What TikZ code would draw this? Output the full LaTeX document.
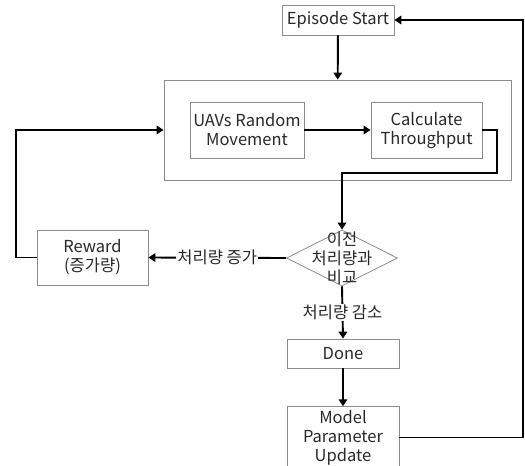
\documentclass[tikz,border=0pt]{standalone}
\usepackage{fontspec}
\usepackage{tikz}
\usetikzlibrary{shapes.geometric,arrows.meta}
\setmainfont{Noto Sans CJK KR}
\definecolor{boxgray}{RGB}{140,140,140}
\definecolor{textgray}{RGB}{40,40,40}

\begin{document}
\begin{tikzpicture}[x=1pt, y=-1pt,
    box/.style={draw=boxgray, line width=0.8pt, rectangle, align=center, text=textgray, font=\fontsize{16.5}{19}\selectfont},
    flow/.style={line width=1.9pt, -{Triangle[length=7pt,width=8.5pt]}},
    plain/.style={line width=1.9pt}]
            \useasboundingbox (0,0) rectangle (525,466);
            % Start
            \node[box, minimum width=112pt, minimum height=30pt] (start) at (338,20) {Episode Start};
            
            % Environment step
            \node[box, minimum width=347pt, minimum height=100pt] (outer) at (337.5,130) {};
            \node[box, minimum width=112pt, minimum height=56pt] (move) at (247,130) {UAVs Random\\Movement};
            \node[box, minimum width=111pt, minimum height=56pt] (calc) at (426.5,130) {Calculate\\Throughput};
            
            % Comparison
            \node[diamond, draw=boxgray, line width=0.8pt, minimum width=111pt, minimum height=56pt, inner sep=0pt] (cmp) at (342,258) {};
            \node[align=center, text=textgray, font=\fontsize{16.5}{19}\selectfont] (cmptext) at (cmp) {이전\\처리량과\\비교};
            
            % Reward
            \node[box, minimum width=111pt, minimum height=55pt] (reward) at (92.5,257.5) {Reward\\(증가량)};
            
            % End of episode
            \node[box, minimum width=112pt, minimum height=29pt] (done) at (343,353.5) {Done};
            \node[box, minimum width=112pt, minimum height=55pt] (update) at (343,437.5) {Model\\Parameter\\Update};
            
            % Bends
            \coordinate (calcturn) at (497,173);
            \coordinate (rewardturn) at (16,130);
            \coordinate (returnturn) at (523,20);
            
            % Arrows
            \draw[flow] (start) -- (outer);
            \draw[flow] (move) -- (calc);
            \draw[flow] (calc.east) -| (calcturn) -| (cmp.north);
            \draw[flow] (cmp.west) -- node[fill=white, inner sep=1pt, text=textgray, font=\fontsize{16.5}{19}\selectfont] (uplabel) {처리량 증가} (reward.east);
            \draw[flow] (reward.west) -| (rewardturn) -- (outer.west);
            \draw[flow] (cmp.south) -- node[fill=white, inner sep=1pt, text=textgray, font=\fontsize{16.5}{19}\selectfont] (downlabel) {처리량 감소} (done.north);
            \draw[flow] (done) -- (update);
            \draw[flow] (update.east) -| (returnturn) -- (start.east);
        \end{tikzpicture}
\end{document}
